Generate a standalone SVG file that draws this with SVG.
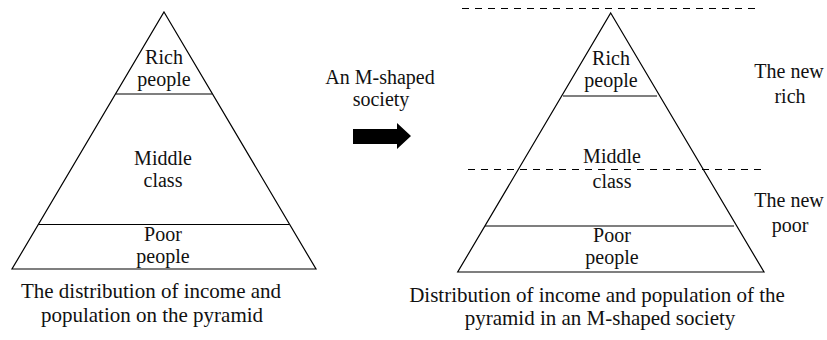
<svg xmlns="http://www.w3.org/2000/svg" width="827" height="340" viewBox="0 0 827 340">
<style>
  .t { font-family: "Liberation Serif", "Times New Roman", serif; font-size: 20px; fill: #111; text-anchor: middle; }
  .c { font-size: 21px; }
  .s { fill: #fff; stroke: #000; stroke-width: 1.2; }
  .ln { stroke: #000; stroke-width: 1.2; fill: none; }
  .dash { stroke: #000; stroke-width: 1.2; stroke-dasharray: 7 6; fill: none; }
</style>
<rect width="827" height="340" fill="#fff"/>

<g id="left-pyramid">
  <polygon class="s" points="164,12 316,269 12,269"/>
  <line class="ln" x1="116" y1="94" x2="212" y2="94"/>
  <line class="ln" x1="39" y1="224.5" x2="289" y2="224.5"/>
  <g id="left-rich"><text class="t" x="164" y="64">Rich</text><text class="t" x="164" y="86">people</text></g>
  <g id="left-middle"><text class="t" x="163" y="165">Middle</text><text class="t" x="163" y="187">class</text></g>
  <g id="left-poor"><text class="t" x="163" y="241">Poor</text><text class="t" x="163" y="263">people</text></g>
  <g id="left-caption"><text class="t c" x="151" y="298">The distribution of income and</text><text class="t c" x="152" y="322">population on the pyramid</text></g>
</g>

<g id="transition">
  <text class="t" x="380" y="84">An M-shaped</text>
  <text class="t" x="381" y="106">society</text>
</g>

<g id="connectors">
  <polygon fill="#000" points="353,129 397,129 397,123 411,136 397,149 397,144 353,144"/>
</g>

<g id="right-pyramid">
  <line class="dash" x1="462" y1="8.5" x2="758" y2="8.5"/>
  <polygon class="s" points="610.7,13 764,272 457.7,272"/>
  <line class="ln" x1="563" y1="96" x2="657" y2="96"/>
  <line class="ln" x1="485" y1="226" x2="734" y2="226"/>
  <line class="dash" x1="468" y1="169.5" x2="765" y2="169.5"/>
  <g id="right-rich"><text class="t" x="611" y="65">Rich</text><text class="t" x="611" y="87">people</text></g>
  <g id="right-middle"><text class="t" x="612" y="163">Middle</text><text class="t" x="612" y="188">class</text></g>
  <g id="right-poor"><text class="t" x="612" y="242">Poor</text><text class="t" x="612" y="264">people</text></g>
  <g id="new-rich"><text class="t" x="789" y="78">The new</text><text class="t" x="790" y="103">rich</text></g>
  <g id="new-poor"><text class="t" x="789" y="207">The new</text><text class="t" x="790" y="232">poor</text></g>
  <g id="right-caption"><text class="t c" x="597" y="302">Distribution of income and population of the</text><text class="t c" x="600" y="325">pyramid in an M-shaped society</text></g>
</g>
</svg>
